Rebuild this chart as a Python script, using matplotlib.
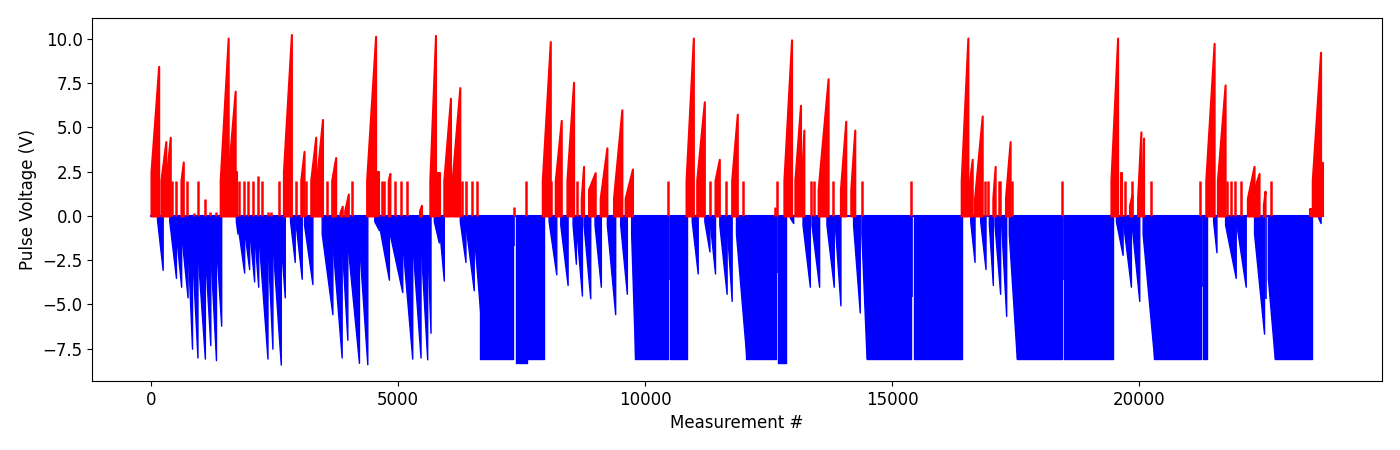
'''
pulse_sweeps.py
pulse voltage of every measurement, positive pulses red and negative pulses blue
each sweep is a ramp of pulses (start #, end #, start V, end V) read off the picture
'''
import matplotlib
matplotlib.use('Agg')
import matplotlib.pyplot as plt

plt.rcParams['font.size'] = 12

#total number of measurements in the run
n_meas = 23720

#positive sweeps : (first measurement, last measurement, first voltage, last voltage)
red_sweeps = [
    (0, 155, 2.5, 8.45), (200, 300, 2.0, 4.2), (320, 390, 2.5, 4.45), (606, 653, 2.0, 3.05),
    (1400, 1562, 2.0, 10.05), (1582, 1703, 3.0, 7.05), (1703, 1750, 2.5, 2.5),
    (2680, 2841, 2.5, 10.25),
    (3030, 3097, 2.0, 3.65), (3232, 3333, 2.0, 4.45), (3350, 3470, 2.0, 5.45),
    (3656, 3737, 2.0, 3.3), (3824, 3870, 0.2, 0.55), (3920, 3993, 0.3, 1.24),
    (4363, 4545, 2.0, 10.15), (4545, 4610, 2.5, 2.5), (4800, 4834, 2.0, 2.4),
    (5434, 5474, 0.3, 0.6),
    (5642, 5757, 2.0, 10.2), (5790, 5838, 2.4, 2.4), (5925, 6060, 2.0, 6.65),
    (6093, 6249, 2.0, 7.25),
    (7918, 8080, 2.0, 9.85), (8181, 8302, 2.0, 5.4), (8416, 8551, 2.0, 7.55),
    (8706, 8753, 1.0, 2.8), (8854, 8989, 1.5, 2.45), (9090, 9225, 1.0, 3.85),
    (9359, 9528, 1.0, 6.0), (9595, 9743, 1.0, 2.65),
    (10827, 10975, 2.0, 10.05), (11043, 11197, 2.0, 6.45), (11413, 11500, 2.0, 3.2),
    (11750, 11864, 2.0, 5.75),
    (12807, 12962, 2.0, 9.95), (13029, 13143, 2.0, 6.25), (13163, 13211, 2.0, 4.85),
    (13500, 13702, 1.5, 7.75), (13951, 14059, 1.5, 5.35), (14160, 14241, 1.5, 4.85),
    (16395, 16530, 2.0, 10.05), (16564, 16618, 2.0, 3.2), (16665, 16820, 1.0, 5.65),
    (17035, 17082, 1.0, 2.8), (17291, 17385, 1.0, 4.2),
    (19425, 19560, 2.0, 10.05), (19620, 19650, 2.4, 2.4), (19800, 19850, 0.6, 1.2),
    (19964, 20031, 1.0, 4.75), (20052, 20085, 1.5, 4.4),
    (21344, 21513, 2.0, 9.75), (21580, 21735, 2.0, 7.4),
    (22186, 22321, 1.0, 2.8), (22321, 22422, 1.5, 2.4), (22509, 22543, 0.6, 1.4),
    (23452, 23499, 0.4, 0.4), (23499, 23667, 2.0, 9.25), (23667, 23714, 3.0, 3.0),
]

#single positive pulses : (measurement, voltage)
red_spikes = [
    (424, 2.0), (505, 2.0), (727, 2.0), (860, 0.15), (943, 2.0), (1085, 0.95),
    (1192, 0.2), (1313, 0.2),
    (1784, 2.0), (1872, 2.0), (1953, 2.0), (2054, 2.0), (2155, 2.26), (2255, 2.0),
    (2377, 0.2), (2430, 0.2), (2592, 2.0),
    (2935, 2.0), (3131, 2.0), (3560, 2.0), (4073, 2.0),
    (4666, 2.0), (4713, 2.0), (4935, 2.0), (5050, 2.0), (5185, 2.0),
    (6302, 2.0), (6376, 2.0), (6498, 2.0), (6599, 2.0), (7339, 0.5), (7595, 2.0),
    (8100, 2.0), (8619, 2.0), (10470, 2.0), (11312, 2.0), (11628, 2.0), (11972, 2.0),
    (12630, 0.5), (12658, 2.0), (13365, 2.0), (13413, 2.0), (13803, 2.0),
    (14395, 2.0), (15385, 2.0),
    (16880, 2.0), (16930, 2.0), (17160, 2.0), (17190, 2.0), (17426, 2.0),
    (18436, 2.0), (19708, 2.0), (19860, 2.0), (20233, 2.0), (21223, 2.0),
    (21782, 2.0), (21849, 2.0), (21937, 2.0), (22051, 2.0), (22657, 2.0),
]

#negative sweeps : (first measurement, last measurement, first voltage, last voltage)
blue_sweeps = [
    (121, 236, -0.2, -3.05), (370, 505, -0.3, -3.5), (505, 610, -1.0, -4.0),
    (610, 740, -1.0, -4.6), (740, 830, -1.5, -7.5), (830, 940, -2.0, -8.0),
    (940, 1090, -2.0, -8.06), (1090, 1200, -2.0, -7.3), (1200, 1315, -2.0, -8.15),
    (1315, 1420, -1.5, -6.2),
    (1717, 1750, -0.3, -1.0), (1750, 1885, -0.5, -3.2), (1885, 1986, -0.8, -3.0),
    (1986, 2087, -0.8, -3.7), (2087, 2170, -1.0, -4.0), (2170, 2357, -1.0, -8.06),
    (2357, 2457, -1.5, -7.5), (2457, 2626, -1.5, -8.4), (2626, 2707, -1.5, -4.6),
    (2814, 2908, -0.3, -2.6), (2929, 3050, -0.5, -3.55), (3097, 3266, -0.5, -3.85),
    (3454, 3670, -1.0, -5.55), (3670, 3858, -1.5, -8.0), (3858, 3973, -1.5, -7.0),
    (3973, 4208, -1.5, -8.3), (4208, 4377, -1.5, -8.38),
    (4518, 4612, -0.3, -0.8), (4612, 4814, -0.5, -3.6), (4814, 5084, -0.8, -4.3),
    (5084, 5286, -1.5, -8.06), (5286, 5454, -1.5, -8.0), (5454, 5589, -1.5, -8.1),
    (5589, 5656, -1.5, -6.6),
    (5723, 5824, -0.3, -1.5), (5824, 5925, -0.5, -3.65),
    (6249, 6363, -0.3, -2.6), (6363, 6531, -0.5, -4.2), (6531, 6666, -1.0, -5.6),
    (6666, 7330, -8.06, -8.06), (7380, 7600, -8.3, -8.3), (7625, 7945, -8.06, -8.06),
    (8046, 8201, -0.3, -3.3), (8282, 8430, -0.5, -3.9), (8531, 8598, -0.5, -2.7),
    (8598, 8720, -0.5, -4.5), (8753, 8888, -0.5, -4.65), (8975, 9103, -0.5, -4.0),
    (9225, 9393, -0.5, -5.55), (9494, 9629, -0.5, -4.4),
    (9716, 9797, -1.0, -8.06), (9797, 10460, -8.06, -8.06), (10500, 10840, -8.06, -8.06),
    (10942, 11063, -0.3, -3.25), (11197, 11300, -0.3, -2.0), (11312, 11413, -0.5, -3.25),
    (11500, 11648, -0.5, -4.4), (11648, 11750, -0.5, -4.8),
    (11837, 12050, -1.0, -8.06), (12050, 12640, -8.06, -8.06), (12690, 12847, -8.3, -8.3),
    (12928, 12995, -0.1, -0.4),
    (13184, 13332, -0.5, -4.0), (13365, 13520, -0.5, -4.0), (13668, 13816, -0.5, -4.0),
    (13837, 13951, -0.5, -5.05), (14207, 14342, -0.5, -5.45),
    (14375, 14480, -1.0, -8.06), (14480, 15370, -8.06, -8.06), (15430, 16416, -8.06, -8.06),
    (16577, 16665, -0.3, -2.6), (16779, 16887, -0.3, -3.0), (16955, 17035, -0.5, -3.9),
    (17069, 17183, -0.5, -4.4), (17204, 17305, -0.5, -5.65),
    (17358, 17520, -1.0, -8.06), (17520, 18425, -8.06, -8.06), (18475, 19459, -8.06, -8.06),
    (19526, 19661, -0.3, -2.2), (19674, 19829, -0.5, -4.0), (19843, 19998, -0.5, -4.8),
    (20066, 20300, -1.0, -8.06), (20300, 21240, -8.06, -8.06), (21285, 21378, -8.06, -8.06),
    (21493, 21560, -0.3, -2.05), (21735, 21950, -0.5, -3.5), (21964, 22152, -0.5, -4.0),
    (22321, 22523, -1.0, -6.65), (22600, 22740, -3.5, -8.06), (22740, 23486, -8.06, -8.06),
    (23620, 23667, -0.1, -0.4),
]

#single negative pulses inside the flat blocks : (measurement, voltage)
blue_spikes = [
    (7355, -1.7), (7612, -3.1), (10480, -3.6), (12668, -3.2), (15400, -4.6),
    (18450, -3.6), (21262, -4.0), (22560, -4.7),
]

fig, ax = plt.subplots(figsize=(14, 4.5), dpi=100)

#zero-voltage measurements run along the whole series
ax.plot([0, n_meas], [0, 0], color='blue', lw=1.5, zorder=1)

for s, e, v0, v1 in blue_sweeps:
    ax.fill_between([s, e], [v0, v1], 0, color='blue', edgecolor='blue', lw=1.0, zorder=2)
ax.vlines([m for m, v in blue_spikes], 0, [v for m, v in blue_spikes], color='blue', lw=1.2, zorder=2)

for s, e, v0, v1 in red_sweeps:
    ax.fill_between([s, e], [v0, v1], 0, color='red', edgecolor='red', lw=1.5, zorder=3)
ax.vlines([m for m, v in red_spikes], 0, [v for m, v in red_spikes], color='red', lw=1.8, zorder=3)

ax.set_xlabel('Measurement #')
ax.set_ylabel('Pulse Voltage (V)')
ax.margins(x=0.05, y=0.05)

fig.subplots_adjust(left=0.066, right=0.987, top=0.96, bottom=0.153)
plt.savefig('out.png', facecolor='w', edgecolor='w')
plt.close()
